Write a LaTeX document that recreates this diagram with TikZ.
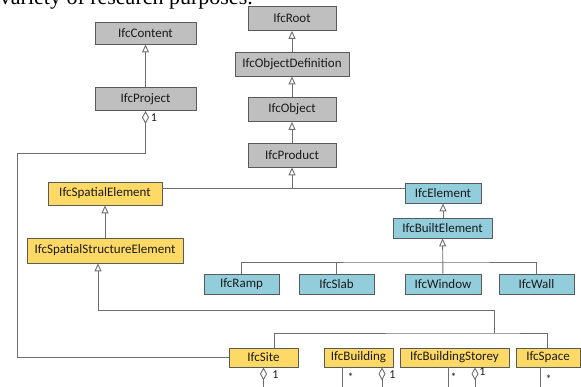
\documentclass[tikz,border=0pt]{standalone}
\usepackage{fontspec}
\setmainfont{Carlito}
\newfontfamily\bodyserif{Liberation Serif}
\usepackage{xcolor}
\definecolor{boxgray}{HTML}{BFBFBF}
\definecolor{boxyellow}{HTML}{FFD966}
\definecolor{boxblue}{HTML}{92CDDC}
\definecolor{edgegray}{HTML}{6E6E6E}
\definecolor{framegray}{HTML}{5A5A5A}
\definecolor{labeltext}{HTML}{1A1A1A}
\usepackage{tikz}
\usetikzlibrary{arrows.meta}

\begin{document}
\begin{tikzpicture}[x=1pt, y=-1pt, font=\fontsize{13}{15}\selectfont,
  cls/.style={rectangle, draw=framegray, line width=0.8pt, inner sep=0pt, text=labeltext},
  graycls/.style={cls, fill=boxgray, minimum height=24pt},
  yellowcls/.style={cls, fill=boxyellow, minimum height=22pt},
  bluecls/.style={cls, fill=boxblue, minimum height=20pt},
  conn/.style={draw=edgegray, line width=0.9pt},
  gen/.style={conn, -{Triangle[open, length=8pt, width=7pt]}},
  agg/.style={conn, {Diamond[open, length=13pt, width=7pt]}-},
  mult/.style={inner sep=0pt, text=labeltext, font=\fontsize{12}{14}\selectfont}]

  \useasboundingbox (0,0) rectangle (581,387);
  \clip (0,0) rectangle (581,387);

  % cut-off line of running text above the figure
  \node[anchor=base east, inner sep=0pt, font=\bodyserif\fontsize{22}{24}\selectfont]
    (runtext) at (253,4.5) {variety of research purposes.};

  % root chain
  \node[graycls, minimum width=88pt] (root) at (292,18.5) {IfcRoot};
  \node[graycls, minimum width=114pt] (objdef) at (292,64) {IfcObjectDefinition};
  \node[graycls, minimum width=88pt] (object) at (292,109.5) {IfcObject};
  \node[graycls, minimum width=88pt] (product) at (292,155) {IfcProduct};
  \node[graycls, minimum width=101pt, minimum height=22pt] (content) at (145.5,33) {IfcContent};
  \node[graycls, minimum width=101pt, minimum height=23pt] (project) at (145.5,99) {IfcProject};

  % spatial branch
  \node[yellowcls, minimum width=114pt, minimum height=23pt] (spatial) at (105,193.5) {IfcSpatialElement};
  \node[yellowcls, minimum width=156pt, minimum height=25pt] (ssel) at (105,250.5) {IfcSpatialStructureElement};
  \node[yellowcls, minimum width=69pt, minimum height=19pt] (site) at (263.5,357.5) {IfcSite};
  \node[yellowcls, minimum width=69pt, minimum height=19pt] (building) at (358.5,357.5) {IfcBuilding};
  \node[yellowcls, minimum width=109pt, minimum height=19pt] (storey) at (454.5,357.5) {IfcBuildingStorey};
  \node[yellowcls, minimum width=64pt, minimum height=19pt] (space) at (548,357.5) {IfcSpace};

  % element branch
  \node[bluecls, minimum width=76pt] (element) at (443,193) {IfcElement};
  \node[bluecls, minimum width=99pt] (built) at (442.5,228) {IfcBuiltElement};
  \node[bluecls, minimum width=75pt] (ramp) at (241.5,284) {IfcRamp};
  \node[bluecls, minimum width=75pt] (slab) at (336.5,284) {IfcSlab};
  \node[bluecls, minimum width=76pt] (window) at (443,284) {IfcWindow};
  \node[bluecls, minimum width=75pt] (wall) at (536.5,284) {IfcWall};

  % generalisations
  \draw[gen] (objdef) -- (root);
  \draw[gen] (object) -- (objdef);
  \draw[gen] (product) -- (object);
  \draw[gen] (project) -- (content);
  \coordinate (prodbus) at ([yshift=5.5pt]spatial.east -| product.south);
  \draw[conn] ([yshift=5.5pt]spatial.east) -- ([yshift=5.5pt]spatial.east -| element.west);
  \draw[gen] (prodbus) -- (product);
  \draw[gen] (ssel) -- (spatial);
  \draw[gen] (element.south |- built.north) -- (element);
  \coordinate (builtbus) at (443,262);
  \draw[gen] (window) -- (built);
  \draw[conn] (ramp.north) |- (builtbus) -| (wall.north);
  \draw[conn] (slab.north) -- (slab.north |- builtbus);
  \coordinate (sitebus) at (494,333);
  \draw[gen] (sitebus) -- (494,310) -| ([xshift=-7pt]ssel.south);
  \draw[conn] ([xshift=10.5pt]site.north) |- (sitebus) -| ([xshift=-1pt]space.north);

  % aggregations
  \draw[agg] (project.south) |- (17,153) |- (site.west);
  \node[mult] (pm) at (154,118) {1};

  \coordinate (siteend) at (site.south |- 0,390);
  \draw[agg] (site.south) -- (siteend);
  \node[mult] (sm) at (275.5,375) {1};

  \coordinate (bstar) at ([xshift=-16.5pt]building.south |- 0,390);
  \draw[conn] ([xshift=-16.5pt]building.south) -- (bstar);
  \node[mult] (bm1) at (350.5,377) {*};
  \coordinate (bend) at ([xshift=23.5pt]building.south |- 0,390);
  \draw[agg] ([xshift=23.5pt]building.south) -- (bend);
  \node[mult] (bm2) at (392.5,375) {1};

  \coordinate (sstar) at ([xshift=-6.5pt]storey.south |- 0,390);
  \draw[conn] ([xshift=-6.5pt]storey.south) -- (sstar);
  \node[mult] (stm1) at (453.5,377) {*};
  \coordinate (send) at ([xshift=20.5pt]storey.south |- 0,390);
  \draw[agg] ([xshift=20.5pt]storey.south) -- (send);
  \node[mult] (stm2) at (482.5,372) {1};

  \coordinate (pstar) at ([xshift=-8pt]space.south |- 0,390);
  \draw[conn] ([xshift=-8pt]space.south) -- (pstar);
  \node[mult] (spm) at (548.5,379) {*};
\end{tikzpicture}
\end{document}
